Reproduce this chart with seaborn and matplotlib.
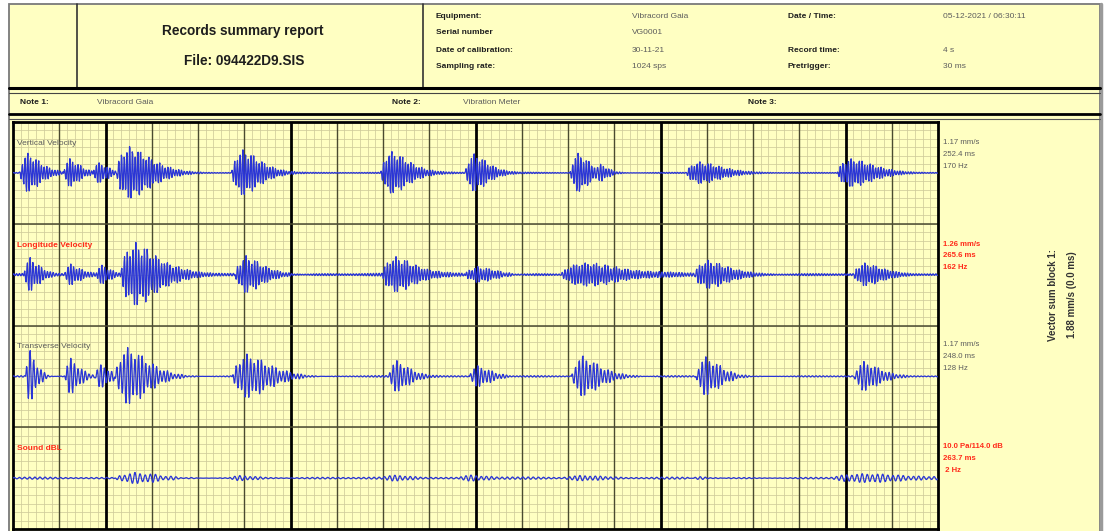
import numpy as np
import pandas as pd
import matplotlib
matplotlib.use("Agg")
import matplotlib.pyplot as plt
from matplotlib.patches import Rectangle
import seaborn as sns

# ---------------------------------------------------------------- data
SAMPLE_RATE = 1024          # sps
WINDOW_S = 2.0              # seconds shown across the chart

channel_names = ["Vertical Velocity", "Longitude Velocity",
                 "Transverse Velocity", "Sound dBL"]
channel_units = ["mm/s", "mm/s", "mm/s", "Pa"]
channel_range = [2.0, 2.0, 2.0, 85.0]          # half height of each strip
peak_values = [1.17, 1.26, 1.17, 10.0]
peak_times_ms = [252.4, 265.6, 248.0, 263.7]
dominant_hz = [170, 162, 128, 2]
noise_floor = [0.025, 0.06, 0.035, 1.8]
texture_hz = [170, 162, 128, 90]

# bursts: time of peak (s), peak amplitude, decay length (s)
vert_peak_t = [0.032, 0.123, 0.186, 0.2524, 0.497, 0.819, 0.997, 1.222, 1.271, 1.485, 1.812]
vert_amp = [0.79, 0.59, 0.47, 1.17, 0.91, 0.87, 0.75, 0.83, 0.39, 0.47, 0.63]
vert_len = [0.039, 0.032, 0.030, 0.065, 0.054, 0.052, 0.043, 0.039, 0.024, 0.065, 0.065]

long_peak_t = [0.037, 0.125, 0.192, 0.2656, 0.504, 0.828, 1.005, 1.237, 1.503, 1.842]
long_amp = [0.67, 0.39, 0.35, 1.26, 0.79, 0.67, 0.35, 0.47, 0.55, 0.43]
long_len = [0.030, 0.030, 0.026, 0.074, 0.054, 0.065, 0.065, 0.117, 0.065, 0.054]

trans_peak_t = [0.037, 0.125, 0.190, 0.248, 0.506, 0.830, 1.005, 1.232, 1.498, 1.840]
trans_amp = [1.05, 0.71, 0.47, 1.17, 0.91, 0.59, 0.43, 0.87, 0.79, 0.59]
trans_len = [0.022, 0.028, 0.028, 0.065, 0.070, 0.039, 0.043, 0.054, 0.048, 0.048]

sound_peak_t = [0.2637, 0.490, 0.826, 0.990, 1.226, 1.486, 1.836]
sound_amp = [10.0, 3.5, 3.5, 4.5, 3.5, 3.5, 6.0]
sound_len = [0.100, 0.050, 0.060, 0.060, 0.080, 0.060, 0.150]

bursts = [
    (vert_peak_t, vert_amp, vert_len),
    (long_peak_t, long_amp, long_len),
    (trans_peak_t, trans_amp, trans_len),
    (sound_peak_t, sound_amp, sound_len),
]

header_left = ["Equipment:", "Serial number", "Date of calibration:", "Sampling rate:"]
header_left_val = ["Vibracord Gaia", "VG0001", "30-11-21", "1024 sps"]
header_right = ["Date / Time:", "", "Record time:", "Pretrigger:"]
header_right_val = ["05-12-2021 / 06:30:11", "", "4 s", "30 ms"]
notes = [("Note 1:", "Vibracord Gaia"), ("Note 2:", "Vibration Meter"), ("Note 3:", "")]
vector_sum = ("Vector sum block 1:", "1.88 mm/s (0.0 ms)")

# ---------------------------------------------------------------- style
PAPER = "#FFFFC2"
MINOR = "#CFCB9A"
MAJOR = "#4A4A30"
TRACE = "#2A35D6"
RED = "#FF2A1A"
INK = "#1E1E1E"
GREY = "#5C5C5C"

sns.set_theme(style="white")
plt.rcParams["font.family"] = ["Liberation Sans", "DejaVu Sans"]

W, H = 1107, 531
fig = plt.figure(figsize=(W / 100, H / 100), dpi=100)
fig.patch.set_facecolor("white")

# page layer in pixel coordinates
pg = fig.add_axes([0, 0, 1, 1])
pg.set_xlim(0, W)
pg.set_ylim(H, 0)
pg.axis("off")

pg.add_patch(Rectangle((9, 4), 1091, 560, fc=PAPER, ec="#7A7A7A", lw=1.3, zorder=0))
pg.plot([1101, 1101], [4, 531], color="#9A9A9A", lw=2.5, zorder=1)
pg.plot([77, 77], [4, 88], color="#333333", lw=1.2)
pg.plot([423, 423], [4, 88], color="#333333", lw=1.2)
pg.plot([9, 1100], [88, 88], color="black", lw=2.2)
pg.plot([9, 1100], [93, 93], color="#444444", lw=0.8)
pg.plot([9, 1100], [114, 114], color="black", lw=2.0)
pg.plot([9, 1100], [118.5, 118.5], color="#555555", lw=0.8)

pg.text(243, 31, "Records summary report", ha="center", va="center",
        fontsize=9.8, fontweight="bold", color=INK)
pg.text(244, 61, "File: 094422D9.SIS", ha="center", va="center",
        fontsize=9.8, fontweight="bold", color=INK)

row_y = [16, 33, 50, 67]
for y, a, b, c, d in zip(row_y, header_left, header_left_val, header_right, header_right_val):
    pg.text(436, y, a, ha="left", va="center", fontsize=6, fontweight="bold", color=INK)
    pg.text(632, y, b, ha="left", va="center", fontsize=6, color=GREY)
    pg.text(788, y, c, ha="left", va="center", fontsize=6, fontweight="bold", color=INK)
    pg.text(943, y, d, ha="left", va="center", fontsize=6, color=GREY)

for (lab, val), xl, xv in zip(notes, [20, 392, 748], [97, 463, 820]):
    pg.text(xl, 103, lab, ha="left", va="center", fontsize=6, fontweight="bold", color=INK)
    pg.text(xv, 103, val, ha="left", va="center", fontsize=6, color=GREY)

# summary beside each strip
strip_top = [143, 244, 345, 447]
for k in range(4):
    red = k in (1, 3)
    col = RED if red else GREY
    wt = "bold" if red else "normal"
    lines = [f"{peak_values[k]:.2f} {channel_units[k]}" if k < 3
             else f"{peak_values[k]:.1f} Pa/114.0 dB",
             f"{peak_times_ms[k]:.1f} ms",
             f"{dominant_hz[k]} Hz" if k < 3 else f" {dominant_hz[k]} Hz"]
    for j, s in enumerate(lines):
        pg.text(943, strip_top[k] + j * 11.8, s, ha="left", va="center",
                fontsize=5.6, fontweight=wt, color=col)

pg.text(1053, 295, vector_sum[0], rotation=90, ha="center", va="center",
        fontsize=7.0, fontweight="bold", color="#333333")
pg.text(1072, 295, vector_sum[1], rotation=90, ha="center", va="center",
        fontsize=7.0, fontweight="bold", color="#333333")

# ---------------------------------------------------------------- traces
x0, x1, y0, y1 = 13, 938, 122, 529
ax = fig.add_axes([x0 / W, (H - y1) / H, (x1 - x0) / W, (y1 - y0) / H])
ax.set_facecolor(PAPER)

t = np.arange(int(WINDOW_S * SAMPLE_RATE)) / SAMPLE_RATE

for k in range(4):
    f = texture_hz[k]
    sig = noise_floor[k] * np.sin(2 * np.pi * f * t) \
        * (0.6 + 0.4 * np.sin(2 * np.pi * 4.7 * t) * np.sin(2 * np.pi * 1.9 * t + 1.0))
    for tp, a, ln in zip(*bursts[k]):
        r = ln / 2.2
        s = t - (tp - r)
        env = np.where(s > 0, a * (s / r) * np.exp(1 - s / r), 0.0)
        d = t - tp
        car = np.cos(2 * np.pi * f * d) * (0.82 + 0.18 * np.cos(2 * np.pi * 0.27 * f * d))
        sig = sig + env * car
    df = pd.DataFrame({"t": t, "y": k + 0.5 - sig / (2 * channel_range[k])})
    sns.lineplot(data=df, x="t", y="y", ax=ax, color=TRACE, lw=0.9,
                 estimator=None, sort=False, legend=False, zorder=5)

ax.set_xlim(0, WINDOW_S)
ax.set_ylim(4, 0)

# chart paper
for xm in np.arange(0, WINDOW_S, 0.1 / 6):
    ax.axvline(xm, color=MINOR, lw=0.55, zorder=1)
for ym in np.arange(0, 4, 1 / 12):
    ax.axhline(ym, color=MINOR, lw=0.55, zorder=1)
for i, xm in enumerate(np.arange(0.1, WINDOW_S, 0.1)):
    thick = (i + 1) % 4 == 2
    ax.axvline(xm, color="black" if thick else MAJOR, lw=2.0 if thick else 1.0, zorder=2)
for ym in (1, 2, 3):
    ax.axhline(ym, color=MAJOR, lw=1.1, zorder=2)

label_col = [GREY, RED, GREY, RED]
label_wt = ["normal", "bold", "normal", "bold"]
for k in range(4):
    ax.text(0.009, k + 0.21, channel_names[k], transform=ax.transData,
            ha="left", va="center", fontsize=6.0, color=label_col[k],
            fontweight=label_wt[k], zorder=6)

ax.set_xticks([])
ax.set_yticks([])
ax.set_xlabel("")
ax.set_ylabel("")
for sp in ax.spines.values():
    sp.set_visible(True)
    sp.set_color("black")
    sp.set_linewidth(2.0)

fig.savefig("out.png", dpi=100, facecolor="white")
